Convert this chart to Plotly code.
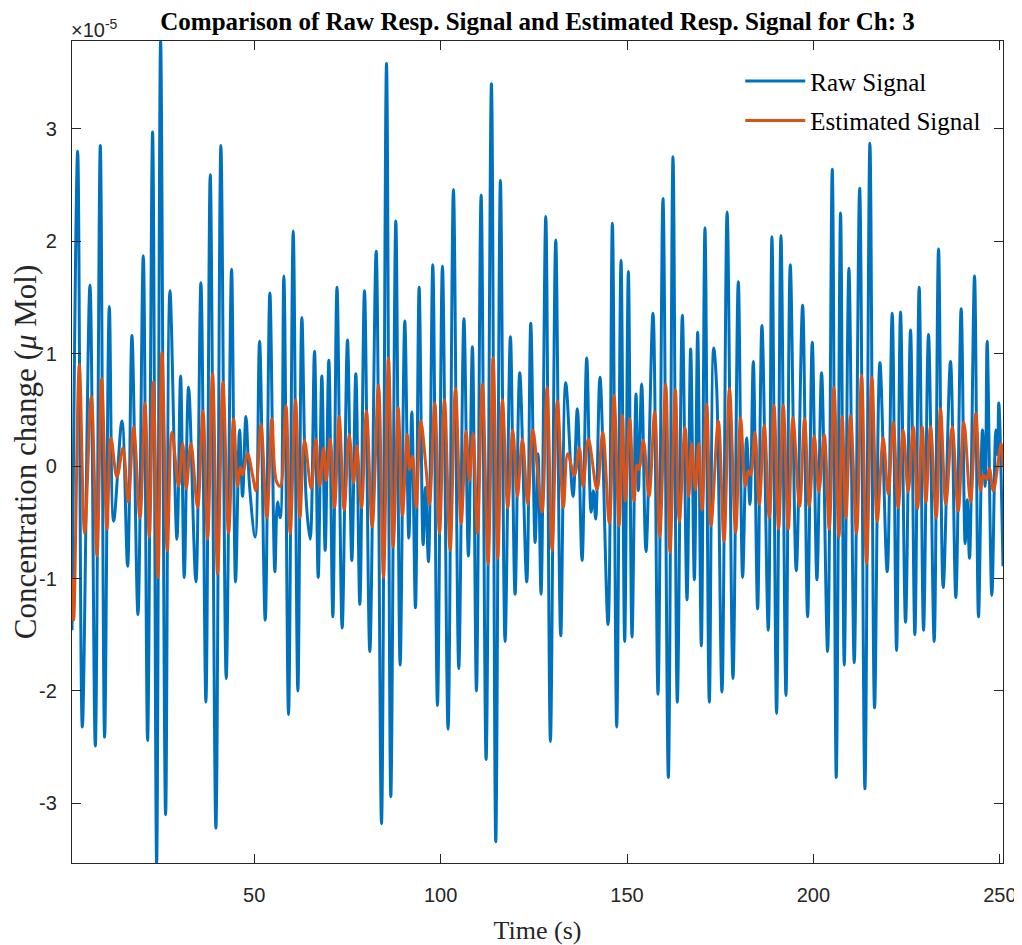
import plotly.graph_objects as go

# Raw signal: turning points (time in s, value in units of 1e-5)
raw_time = [1.12, 2.64, 3.89, 5.94, 7.37, 8.71, 9.87, 11.13, 12.29, 14.52, 16.04, 17.2, 18.81,
            20.24, 21.4, 22.74, 23.82, 24.89, 26.23, 27.39, 29.27, 30.25, 31.23, 32.39, 34.36,
            35.7, 37.04, 38.2, 39.72, 41.06, 42.49, 43.92, 44.99, 46.07, 46.87, 47.77, 48.75,
            50.27, 51.43, 52.95, 54.2, 55.54, 56.25, 56.97, 57.95, 59.2, 60.46, 61.71, 62.78,
            63.94, 65.01, 66.17, 67.16, 68.14, 69.03, 70.02, 71.09, 72.2, 73.59, 75.02, 76.18,
            77.26, 78.33, 79.58, 81.01, 82.71, 84.14, 85.48, 86.64, 87.98, 89.14, 90.39, 91.47,
            92.27, 93.25, 94.24, 95.31, 95.93, 96.74, 97.9, 99.15, 100.49, 102.0, 103.44, 104.87,
            106.25, 107.45, 108.53, 109.61, 110.86, 112.2, 113.63, 114.79, 116.04, 117.29, 118.72,
            119.97, 121.22, 123.1, 124.18, 125.34, 126.14, 126.94, 128.2, 129.45, 130.88, 132.22,
            133.56, 135.52, 136.68, 137.94, 139.19, 140.35, 140.97, 141.6, 142.75, 144.91, 146.07,
            147.23, 148.39, 149.37, 150.36, 151.34, 152.41, 153.04, 153.93, 155.09, 156.97, 158.31,
            159.65, 161.08, 162.33, 163.49, 164.84, 166.09, 167.07, 168.06, 168.95, 169.93, 170.91,
            172.07, 173.24, 174.04, 175.47, 176.85, 178.42, 179.85, 181.01, 182.08, 182.98, 183.87,
            185.03, 186.19, 187.89, 188.87, 190.12, 191.29, 192.63, 193.79, 195.4, 197.1, 198.44,
            199.69, 200.94, 202.19, 203.8, 205.05, 206.12, 207.28, 208.27, 209.52, 210.95, 212.4,
            213.81, 215.15, 216.4, 217.83, 219.79, 221.13, 222.3, 223.37, 224.71, 226.05, 227.21,
            228.37, 229.54, 230.87, 232.39, 233.56, 234.81, 236.77, 238.2, 239.63, 240.7, 241.24,
            241.87, 243.21, 244.28, 245.35, 246.07, 246.6, 247.86, 248.93, 249.38, 249.73, 250.85]
raw_value = [-1.46, 2.80, -2.32, 1.61, -2.49, 2.85, -2.41, 1.42, -0.49, 0.40, -0.89, 1.16, -1.32,
             1.87, -2.44, 2.97, -3.53, 3.78, -3.10, 1.56, -0.65, 0.80, -0.99, 0.70, -1.03,
             1.63, -2.10, 2.59, -3.22, 2.85, -1.89, 1.75, -1.03, 0.32, -0.27, 0.44, -0.18,
             -0.63, 1.11, -1.37, 1.54, -0.94, -0.32, -0.46, 1.69, -2.21, 2.09, -2.00, 1.32,
             -0.30, -0.65, 1.02, -0.99, 0.80, -0.75, 0.94, -1.34, 1.59, -1.44, 1.12, -0.84,
             0.82, -1.23, 1.56, -1.65, 1.91, -3.18, 3.58, -2.94, 2.18, -1.77, 1.29, -0.64,
             0.48, -1.26, 1.59, -0.70, -0.19, -0.85, 1.79, -2.13, 1.78, -2.34, 2.46, -1.80,
             1.31, -0.80, 1.06, -2.00, 2.41, -2.61, 3.40, -3.34, 2.54, -1.56, 1.15,
             -1.14, 0.83, -1.03, 1.27, -0.68, 0.11, -1.14, 2.22, -2.45, 2.01, -1.51,
             0.74, -0.27, 0.51, -0.84, 0.96, -0.41, -0.22, -0.47, 0.79, -1.41, 2.16,
             -2.32, 1.83, -1.56, 1.73, -1.52, 0.64, -0.22, 0.73, -0.76, 1.36, -2.03,
             2.38, -2.77, 2.75, -2.10, 1.34, -1.19, 1.04, -1.01, 1.19, -1.60, 2.12,
             -2.10, 1.05, 0.70, -2.01, 2.26, -1.89, 1.64, -0.99, 0.25, -0.34, 0.93,
             -1.27, 1.25, -1.46, 2.04, -2.20, 2.05, -2.04, 1.79, -0.93, 1.43, -1.34,
             1.10, -1.01, 0.83, -1.65, 2.64, -2.77, 2.25, -1.77, 1.76, -1.75, 2.47,
             -2.87, 2.87, -2.15, 0.92, -0.94, 1.36, -1.64, 1.37, -1.39, 1.21, -1.50,
             1.59, -1.46, 1.17, -1.56, 1.93, -1.08, 0.93, -1.17, 1.40, -0.69, -0.30,
             -0.82, 1.69, -1.34, 0.32, -0.18, 1.11, -1.15, 0.32, 0.10, 0.56, -0.89]

# Estimated signal: turning points
est_time = [1.12, 1.56, 3.08, 4.51, 6.3, 7.82, 9.07, 10.5, 11.57, 13.18, 14.79, 16.22, 17.65,
            19.35, 20.69, 21.85, 22.92, 24.17, 25.25, 26.68, 27.93, 29.71, 30.79, 31.77, 33.02,
            34.81, 36.24, 37.49, 38.83, 40.17, 41.6, 43.12, 44.46, 45.53, 46.25, 46.87, 48.21,
            49.55, 50.45, 51.79, 53.4, 54.74, 55.9, 56.97, 58.49, 59.65, 61.08, 62.24, 63.49,
            65.28, 66.53, 67.52, 68.59, 69.3, 70.38, 71.54, 72.79, 74.13, 75.47, 76.63, 77.52,
            78.77, 80.11, 81.64, 83.33, 84.67, 86.01, 87.27, 88.61, 89.77, 91.02, 91.73, 92.45,
            93.43, 94.68, 96.11, 97.0, 98.44, 99.69, 101.03, 102.55, 103.98, 105.5, 106.84,
            107.73, 108.71, 109.87, 111.21, 112.73, 114.08, 115.33, 116.58, 118.01, 119.35,
            120.6, 121.94, 123.37, 124.71, 126.0, 127.21, 128.55, 129.89, 131.32, 132.93, 134.09,
            135.88, 137.22, 138.2, 139.63, 141.95, 143.48, 145.26, 146.51, 147.86, 148.75, 149.55,
            150.72, 151.88, 152.68, 153.22, 154.38, 155.9, 157.42, 158.76, 160.37, 161.53, 162.96,
            164.03, 165.55, 166.53, 167.34, 168.32, 169.21, 170.11, 171.36, 172.52, 174.49,
            176.01, 177.48, 179.13, 180.47, 181.72, 182.62, 183.2, 184.32, 185.48, 186.82,
            188.16, 189.41, 190.66, 191.91, 193.25, 194.5, 196.29, 197.63, 198.88, 200.22,
            201.47, 202.9, 204.24, 205.5, 206.84, 207.73, 208.71, 209.96, 211.57, 212.91, 214.25,
            215.68, 217.11, 218.72, 220.06, 221.4, 222.74, 224.08, 225.42, 226.76, 227.93, 229.18,
            230.16, 231.41, 232.93, 234.09, 235.52, 237.22, 238.83, 240.35, 242.14, 243.56,
            244.82, 245.53, 246.5, 247.2, 248.26, 250.36, 250.85]
est_value = [-0.99, -1.37, 0.90, -0.60, 0.62, -0.80, 0.78, -0.56, 0.25, -0.10, 0.16, -0.32, 0.35,
             -0.46, 0.56, -0.63, 0.75, -0.99, 1.01, -0.75, 0.30, -0.18, 0.20, -0.20, 0.20,
             -0.37, 0.49, -0.65, 0.82, -0.96, 0.75, -0.60, 0.42, -0.18, -0.01, -0.08, 0.11,
             -0.08, -0.22, 0.37, -0.46, 0.42, -0.13, -0.18, 0.54, -0.60, 0.59, -0.46, 0.23,
             -0.20, 0.24, -0.18, 0.16, -0.13, 0.24, -0.37, 0.44, -0.39, 0.28, -0.15, 0.18,
             -0.37, 0.49, -0.54, 0.72, -0.99, 0.96, -0.72, 0.52, -0.44, 0.28, -0.03, 0.09,
             -0.37, 0.40, -0.03, -0.34, 0.56, -0.60, 0.59, -0.75, 0.69, -0.51, 0.31,
             -0.13, 0.29, -0.60, 0.73, -0.87, 0.96, -0.82, 0.59, -0.37, 0.32,
             -0.27, 0.24, -0.34, 0.32, -0.04, -0.41, 0.70, -0.75, 0.58, -0.37, 0.11,
             -0.08, 0.16, -0.18, 0.24, -0.21, 0.30, -0.51, 0.63, -0.53, 0.45, -0.31,
             0.42, -0.31, 0.01, -0.03, 0.23, -0.27, 0.48, -0.63, 0.73, -0.77, 0.68,
             -0.49, 0.34, -0.27, 0.20, -0.21, 0.20, -0.39, 0.55, -0.53, 0.40,
             -0.67, 0.69, -0.59, 0.43, -0.18, -0.04, -0.08, 0.30, -0.34, 0.36,
             -0.46, 0.54, -0.56, 0.54, -0.56, 0.43, -0.36, 0.42, -0.36, 0.27,
             -0.23, 0.28, -0.56, 0.70, -0.63, 0.44, -0.46, 0.45, -0.60, 0.81, -0.87,
             0.79, -0.49, 0.25, -0.25, 0.39, -0.37, 0.32, -0.23, 0.35, -0.38, 0.35,
             -0.32, 0.35, -0.46, 0.51, -0.34, 0.35, -0.40, 0.39, -0.32, 0.47,
             -0.22, -0.08, -0.12, -0.02, -0.22, 0.20, -0.01]

x_ticks = [50, 100, 150, 200, 250]
y_ticks = [-3, -2, -1, 0, 1, 2, 3]
y_tick_text = ["-3", "-2", "-1", "0", "1", "2", "3"]

BLUE = "#0072BD"
ORANGE = "#D95319"
AXC = "#262626"
SERIF = "Liberation Serif, Times New Roman, serif"
SANS = "Liberation Sans, Arial, sans-serif"

fig = go.Figure()
fig.add_trace(go.Scatter(x=raw_time, y=raw_value, mode="lines", name="Raw Signal",
                         legendgroup="a",
                         line=dict(color=BLUE, width=3, shape="spline", smoothing=1.0)))
fig.add_trace(go.Scatter(x=est_time, y=est_value, mode="lines", name="Estimated Signal",
                         legendgroup="b",
                         line=dict(color=ORANGE, width=3, shape="spline", smoothing=1.0)))

axis_common = dict(showline=True, mirror="ticks", linecolor=AXC, linewidth=1.3,
                   ticks="inside", ticklen=9, tickwidth=1.2, tickcolor=AXC,
                   showgrid=False, zeroline=False, automargin=False,
                   tickfont=dict(family=SANS, size=20, color=AXC))

# the page body adds an 8 px offset, so the figure is 8 px smaller with shifted margins
fig.update_layout(
    width=1014, height=937,
    margin=dict(l=64, r=19, t=33, b=82),
    plot_bgcolor="white", paper_bgcolor="white",
    title=dict(text="<b>Comparison of Raw Resp. Signal and Estimated Resp. Signal for Ch: 3</b>",
               x=0.5, xref="paper", xanchor="center", y=0.986, yanchor="middle",
               font=dict(family=SERIF, size=25, color="black")),
    xaxis=dict(range=[1.12, 250.85], tickvals=x_ticks,
               title=dict(text="Time (s)", font=dict(family=SERIF, size=26, color=AXC), standoff=20),
               ticklabelstandoff=14, **axis_common),
    yaxis=dict(range=[-3.53, 3.78], tickvals=y_ticks, ticktext=y_tick_text,
               title=dict(text="Concentration change (<i>μ</i> Mol)",
                          font=dict(family=SERIF, size=31, color=AXC), standoff=0),
               ticklabelstandoff=10, **axis_common),
    legend=dict(x=0.982, xanchor="right", y=0.979, yanchor="top",
                bgcolor="rgba(255,255,255,0)", borderwidth=0,
                font=dict(family=SERIF, size=25, color="black"),
                tracegroupgap=4, itemwidth=60),
    showlegend=True,
)

fig.add_annotation(text="×10<sup>-5</sup>", xref="paper", yref="paper", x=-0.003, y=1.0,
                   xanchor="left", yanchor="bottom", showarrow=False, yshift=-2,
                   font=dict(family=SANS, size=20, color=AXC))

fig.write_html("out.html")
